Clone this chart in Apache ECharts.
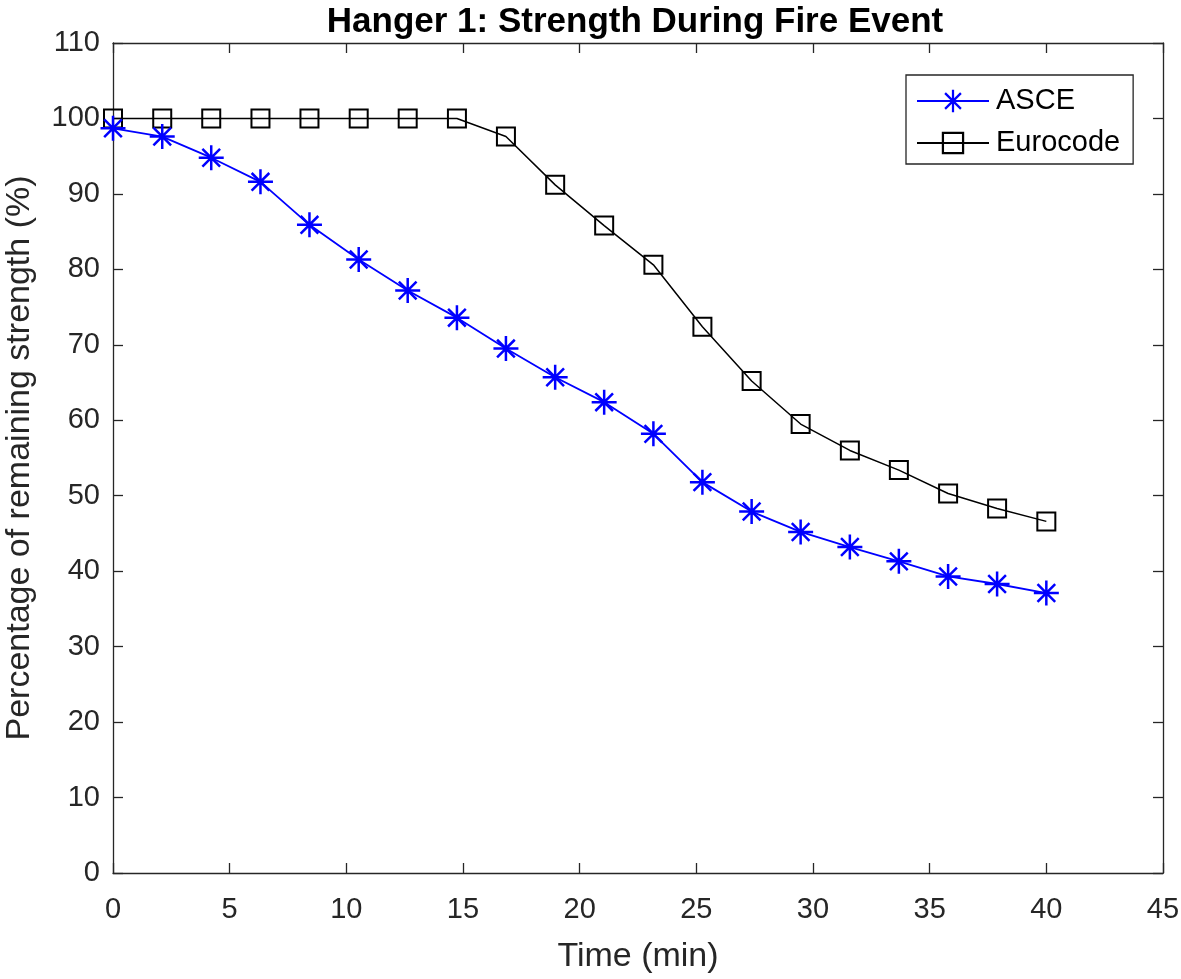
<!DOCTYPE html>
<html>
<head>
<meta charset="utf-8">
<script src="https://cdn.jsdelivr.net/npm/echarts@6/dist/echarts.min.js"></script>
<style>
html,body{margin:0;padding:0;background:#fff;}
#chart{width:1181px;height:979px;}
</style>
</head>
<body>
<div id="chart"></div>
<script>
const timeMin = [0, 2.11, 4.21, 6.32, 8.42, 10.53, 12.63, 14.74, 16.84, 18.95, 21.05, 23.16, 25.26, 27.37, 29.47, 31.58, 33.68, 35.79, 37.89, 40];
const asce = [98.7, 97.6, 94.8, 91.6, 85.9, 81.3, 77.2, 73.6, 69.5, 65.7, 62.4, 58.2, 51.8, 47.9, 45.2, 43.2, 41.3, 39.3, 38.3, 37.1];
const eurocode = [100, 100, 100, 100, 100, 100, 100, 100, 97.6, 91.2, 85.8, 80.6, 72.4, 65.2, 59.5, 56.0, 53.4, 50.3, 48.3, 46.6];
const seriesNames = ['ASCE', 'Eurocode'];
const titleText = 'Hanger 1: Strength During Fire Event';
const xName = 'Time (min)';
const yName = 'Percentage of remaining strength (%)';

const asterisk = 'path://M-1 -10 L1 -10 L1 10 L-1 10 Z M-10 -1 L10 -1 L10 1 L-10 1 Z M-6.36 -7.78 L7.78 6.36 L6.36 7.78 L-7.78 -6.36 Z M6.36 -7.78 L7.78 -6.36 L-6.36 7.78 L-7.78 6.36 Z';
const hollowSquare = 'path://M-10 -10 L10 -10 L10 10 L-10 10 Z M-8 -8 L-8 8 L8 8 L8 -8 Z';

const FONT = '"Liberation Sans", Arial, Helvetica, sans-serif';
const AX = '#262626';

const pairs = (xs, ys) => xs.map((x, i) => [x, ys[i]]);

const chart = echarts.init(document.getElementById('chart'), null, {renderer: 'canvas'});

const baseX = {
  type: 'value', min: 0, max: 45, interval: 5,
  axisLine: {show: true, onZero: false, lineStyle: {color: AX, width: 1.3}},
  axisTick: {show: true, inside: true, length: 10, lineStyle: {color: AX, width: 1.3}},
  splitLine: {show: false}
};
const baseY = {
  type: 'value', min: 0, max: 110, interval: 10,
  axisLine: {show: true, onZero: false, lineStyle: {color: AX, width: 1.3}},
  axisTick: {show: true, inside: true, length: 10, lineStyle: {color: AX, width: 1.3}},
  splitLine: {show: false}
};

chart.setOption({
  animation: false,
  backgroundColor: '#fff',
  title: {
    text: titleText,
    left: 630, top: 0, textAlign: 'center',
    textStyle: {fontFamily: FONT, fontSize: 35, fontWeight: 'bold', color: '#000', lineHeight: 35}
  },
  grid: {left: 113, right: 18, top: 43, bottom: 106, containLabel: false, outerBoundsMode: 'none'},
  legend: {
    orient: 'vertical',
    left: 906, top: 75,
    padding: [11, 13, 6, 10],
    itemGap: 12,
    itemWidth: 72, itemHeight: 28,
    backgroundColor: '#fff',
    borderColor: AX, borderWidth: 1.3,
    textStyle: {fontFamily: FONT, fontSize: 29, color: '#000', lineHeight: 30, padding: [0, 0, 0, 2]},
    data: seriesNames
  },
  xAxis: [
    Object.assign({}, baseX, {
      position: 'bottom',
      name: xName, nameLocation: 'middle', nameGap: 67,
      nameTextStyle: {fontFamily: FONT, fontSize: 34, color: AX, lineHeight: 34},
      axisLabel: {fontFamily: FONT, fontSize: 29, color: AX, margin: 22, lineHeight: 29}
    }),
    Object.assign({}, baseX, {position: 'top', axisLabel: {show: false}})
  ],
  yAxis: [
    Object.assign({}, baseY, {
      position: 'left',
      name: yName, nameLocation: 'middle', nameGap: 76,
      nameTextStyle: {fontFamily: FONT, fontSize: 34, color: AX, lineHeight: 34},
      axisLabel: {fontFamily: FONT, fontSize: 29, color: AX, margin: 13}
    }),
    Object.assign({}, baseY, {position: 'right', axisLabel: {show: false}})
  ],
  series: [
    {
      name: seriesNames[0], type: 'line', xAxisIndex: 0, yAxisIndex: 0,
      data: pairs(timeMin, asce),
      symbol: asterisk, symbolSize: 25,
      itemStyle: {color: '#0000ff'},
      lineStyle: {color: '#0000ff', width: 1.8},
      z: 3
    },
    {
      name: seriesNames[1], type: 'line', xAxisIndex: 0, yAxisIndex: 0,
      data: pairs(timeMin, eurocode),
      symbol: hollowSquare, symbolSize: 20,
      itemStyle: {color: '#000'},
      lineStyle: {color: '#000', width: 1.5},
      z: 2
    }
  ]
});
</script>
</body>
</html>
